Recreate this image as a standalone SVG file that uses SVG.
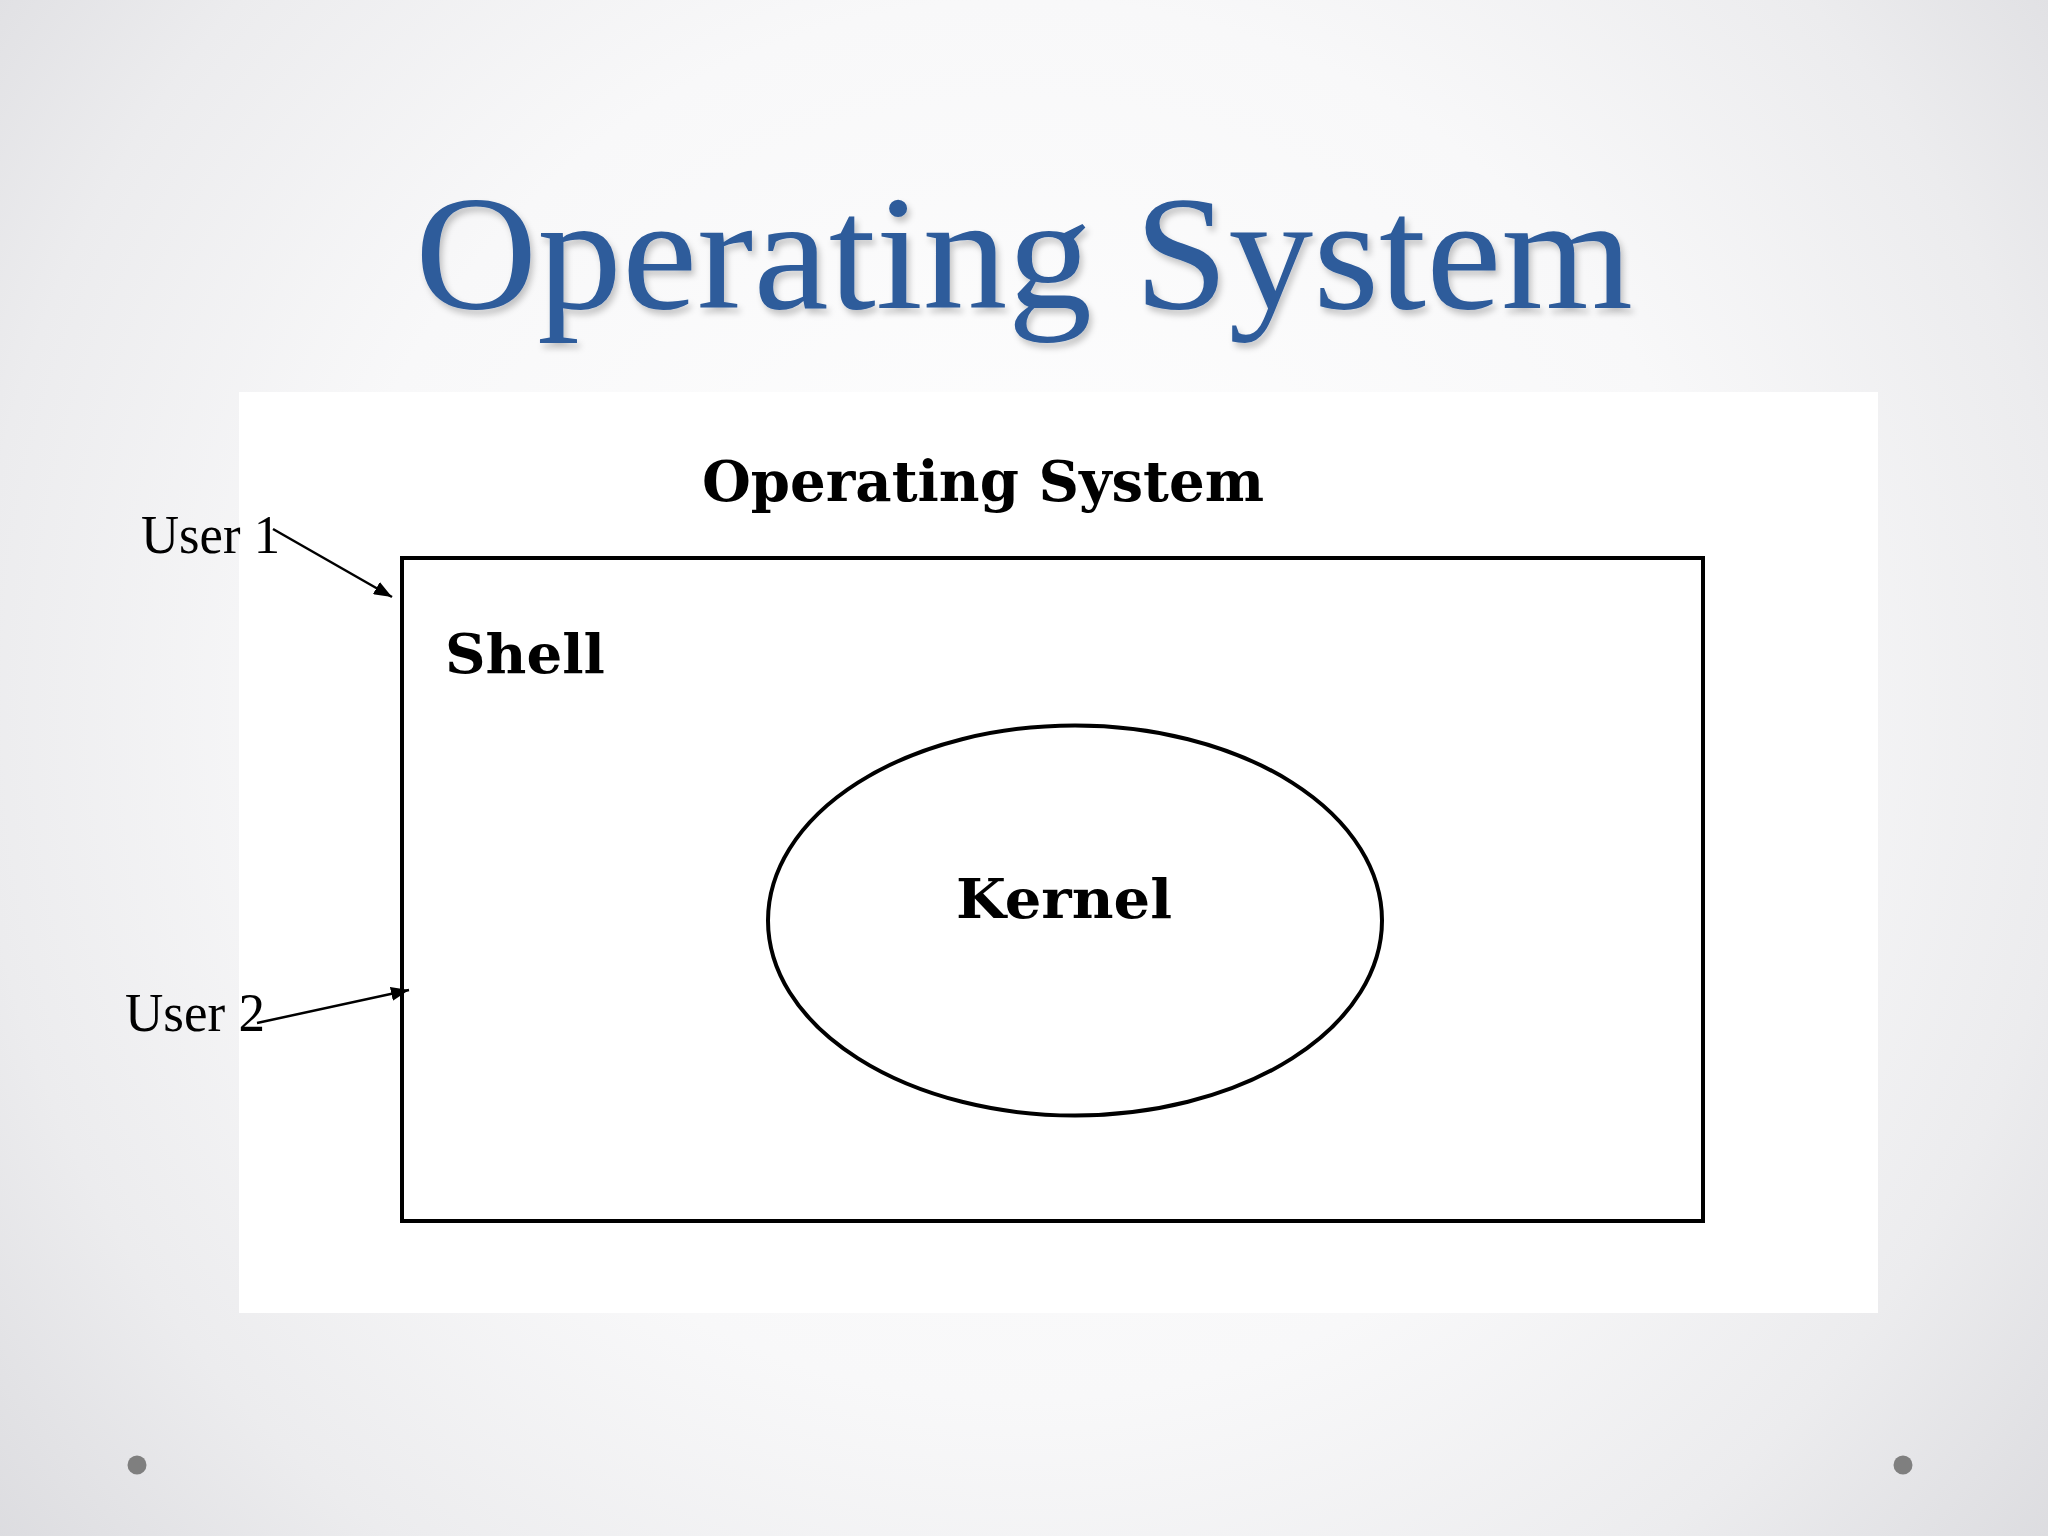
<svg xmlns="http://www.w3.org/2000/svg" width="2048" height="1536" viewBox="0 0 2048 1536">
  <defs>
    <radialGradient id="bg" cx="1024" cy="700" r="1400" gradientUnits="userSpaceOnUse">
      <stop offset="0" stop-color="#ffffff"/>
      <stop offset="0.5" stop-color="#f8f8f9"/>
      <stop offset="0.75" stop-color="#ececee"/>
      <stop offset="1" stop-color="#d8d8dc"/>
    </radialGradient>
    <filter id="shadow" x="-5%" y="-20%" width="110%" height="140%">
      <feDropShadow dx="3" dy="5" stdDeviation="3" flood-color="#000000" flood-opacity="0.22"/>
    </filter>
    <marker id="arrow" viewBox="0 0 18 14" refX="18" refY="7" markerWidth="18" markerHeight="14" markerUnits="userSpaceOnUse" orient="auto">
      <path d="M0,0 L18,7 L0,14 z" fill="#000"/>
    </marker>
    <style>
      .title { font-family: "Liberation Serif", "DejaVu Serif", serif; font-size: 164px; fill: #2D5B9B; }
      .user { font-family: "Liberation Serif", "DejaVu Serif", serif; font-size: 54px; fill: #000; }
      .pix { font-family: "DejaVu Serif", "Liberation Serif", serif; font-weight: bold; fill: #000; }
      .conn { stroke: #000; stroke-width: 2.5; fill: none; }
    </style>
  </defs>

  <rect x="0" y="0" width="2048" height="1536" fill="url(#bg)"/>

  <text class="title" x="415" y="308" textLength="1218" lengthAdjust="spacingAndGlyphs" filter="url(#shadow)">Operating System</text>

  <rect x="239" y="392" width="1639" height="921" fill="#ffffff"/>

  <text class="pix" x="702" y="501" font-size="56" textLength="562" lengthAdjust="spacingAndGlyphs">Operating System</text>

  <g id="shell">
    <rect x="402" y="558" width="1301" height="663" fill="none" stroke="#000" stroke-width="4"/>
    <text class="pix" x="445" y="673" font-size="54" textLength="160" lengthAdjust="spacingAndGlyphs">Shell</text>
  </g>

  <g id="kernel">
    <ellipse cx="1075" cy="920.5" rx="307" ry="195" fill="none" stroke="#000" stroke-width="4"/>
    <text class="pix" x="956" y="918" font-size="54" textLength="216" lengthAdjust="spacingAndGlyphs">Kernel</text>
  </g>

  <g id="user1">
    <text class="user" x="141" y="553" textLength="139" lengthAdjust="spacingAndGlyphs">User 1</text>
  </g>
  <g id="user2">
    <text class="user" x="125" y="1031" textLength="140" lengthAdjust="spacingAndGlyphs">User 2</text>
  </g>

  <g id="connectors">
    <line class="conn" x1="273" y1="529" x2="392" y2="597" marker-end="url(#arrow)"/>
    <line class="conn" x1="257" y1="1023" x2="409" y2="990" marker-end="url(#arrow)"/>
  </g>

  <circle cx="137" cy="1465" r="9.5" fill="#7f7f7f"/>
  <circle cx="1903" cy="1465" r="9.5" fill="#7f7f7f"/>
</svg>
